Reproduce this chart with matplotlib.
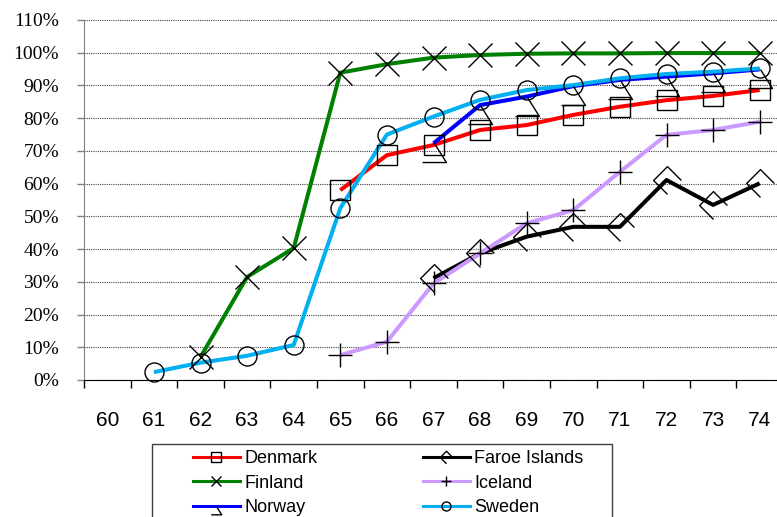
import matplotlib
matplotlib.use("Agg")
import matplotlib.pyplot as plt
from matplotlib.lines import Line2D
from matplotlib.path import Path
from matplotlib.patches import Rectangle
from matplotlib.ticker import FixedLocator, FuncFormatter

# years (19xx) and share per country, in percent
years = list(range(60, 75))
denmark_years = list(range(65, 75))
denmark = [58.0, 68.7, 71.8, 76.4, 77.9, 81.0, 83.5, 85.5, 86.8, 88.6]
faroe_years = list(range(67, 75))
faroe = [31.1, 38.7, 43.8, 46.8, 46.8, 61.1, 53.5, 60.1]
finland_years = list(range(62, 75))
finland = [7.0, 31.5, 40.3, 93.9, 96.5, 98.5, 99.3, 99.7, 99.8, 99.8, 99.9, 99.9, 99.9]
iceland_years = list(range(65, 75))
iceland = [7.6, 11.7, 29.5, 38.7, 47.9, 51.9, 63.6, 74.9, 76.4, 78.9]
norway_years = list(range(67, 75))
norway = [72.3, 84.0, 86.6, 89.8, 91.7, 92.7, 93.7, 94.9]
sweden_years = list(range(61, 75))
sweden = [2.4, 5.3, 7.4, 10.7, 52.5, 75.0, 80.5, 85.6, 88.6, 90.1, 92.2, 93.5, 94.2, 95.2]

# open marker shapes: triangle without its left side, diamond without its lower right side
tri_open = Path([(0, 0), (0.63, -1), (-0.63, -1)], [Path.MOVETO, Path.LINETO, Path.LINETO])
dia_open = Path([(0, -1), (-1, 0), (0, 1), (1, 0)],
                [Path.MOVETO, Path.LINETO, Path.LINETO, Path.LINETO])

# name, x, y, line colour, marker, marker size, marker size in legend
series = [
    ("Denmark", denmark_years, denmark, "#ff0000", "s", 13.7, 6.5),
    ("Faroe Islands", faroe_years, faroe, "#000000", dia_open, 20, 9),
    ("Finland", finland_years, finland, "#008000", "x", 17.3, 7.5),
    ("Iceland", iceland_years, iceland, "#cc99ff", "+", 16.6, 7.5),
    ("Norway", norway_years, norway, "#0000ff", tri_open, 27.4, 12),
    ("Sweden", sweden_years, sweden, "#00b0f0", "o", 13.7, 6.5),
]

fig = plt.figure(figsize=(7.77, 5.17), dpi=100)
ax = fig.add_axes([84 / 777, 137 / 517, 699 / 777, 360 / 517])

handles = {}
for name, xs, ys, color, marker, ms, leg_ms in series:
    ax.plot(xs, ys, color=color, lw=2.9, solid_capstyle="butt", zorder=3)
    ax.plot(xs, ys, ls="none", marker=marker, ms=ms, mfc="none", mec="black",
            mew=1.0, zorder=4, clip_on=False)
    handles[name] = Line2D([], [], color=color, lw=2.2, marker=marker, ms=leg_ms,
                           mfc="none", mec="black", mew=1.0)

ax.set_xlim(59.5, 74.5)
ax.set_ylim(0, 110)

# category axis: ticks between years, labels centred on each year
ax.xaxis.set_major_locator(FixedLocator(years))
ax.xaxis.set_minor_locator(FixedLocator([y - 0.5 for y in years]))
ax.tick_params(axis="x", which="major", length=0, pad=22, labelsize=15,
               labelfontfamily="Liberation Sans")
ax.tick_params(axis="x", which="minor", length=6, width=1, direction="out")

ax.set_yticks(range(0, 111, 10))
ax.yaxis.set_major_formatter(FuncFormatter(lambda v, p: f"{v:.0f}%"))
ax.tick_params(axis="y", length=5, width=1, color="#808080", pad=13, labelsize=14,
               labelfontfamily="Liberation Serif")

ax.grid(axis="y", ls=(0, (1, 1)), color="#444444", lw=0.8)
ax.set_axisbelow(True)
for side in ("top", "right"):
    ax.spines[side].set_visible(False)
ax.spines["left"].set_color("#808080")
ax.spines["bottom"].set_color("black")

# legend: two columns inside one frame
fig.add_artist(Rectangle((152 / 777, -0.05), 460 / 777, 0.05 + 73 / 517,
                         transform=fig.transFigure, fill=False, ec="#404040", lw=1))
leg_font = {"family": "Liberation Sans", "size": 13}
for names, x0 in ((["Denmark", "Finland", "Norway"], 193),
                  (["Faroe Islands", "Iceland", "Sweden"], 423)):
    fig.legend([handles[n] for n in names], names, loc="upper left",
               bbox_to_anchor=(x0 / 777, 1 - 450 / 517), frameon=False,
               borderpad=0, borderaxespad=0, handlelength=2.6, handletextpad=0.25,
               labelspacing=0.42, prop=leg_font)

fig.savefig("out.png", dpi=100)
